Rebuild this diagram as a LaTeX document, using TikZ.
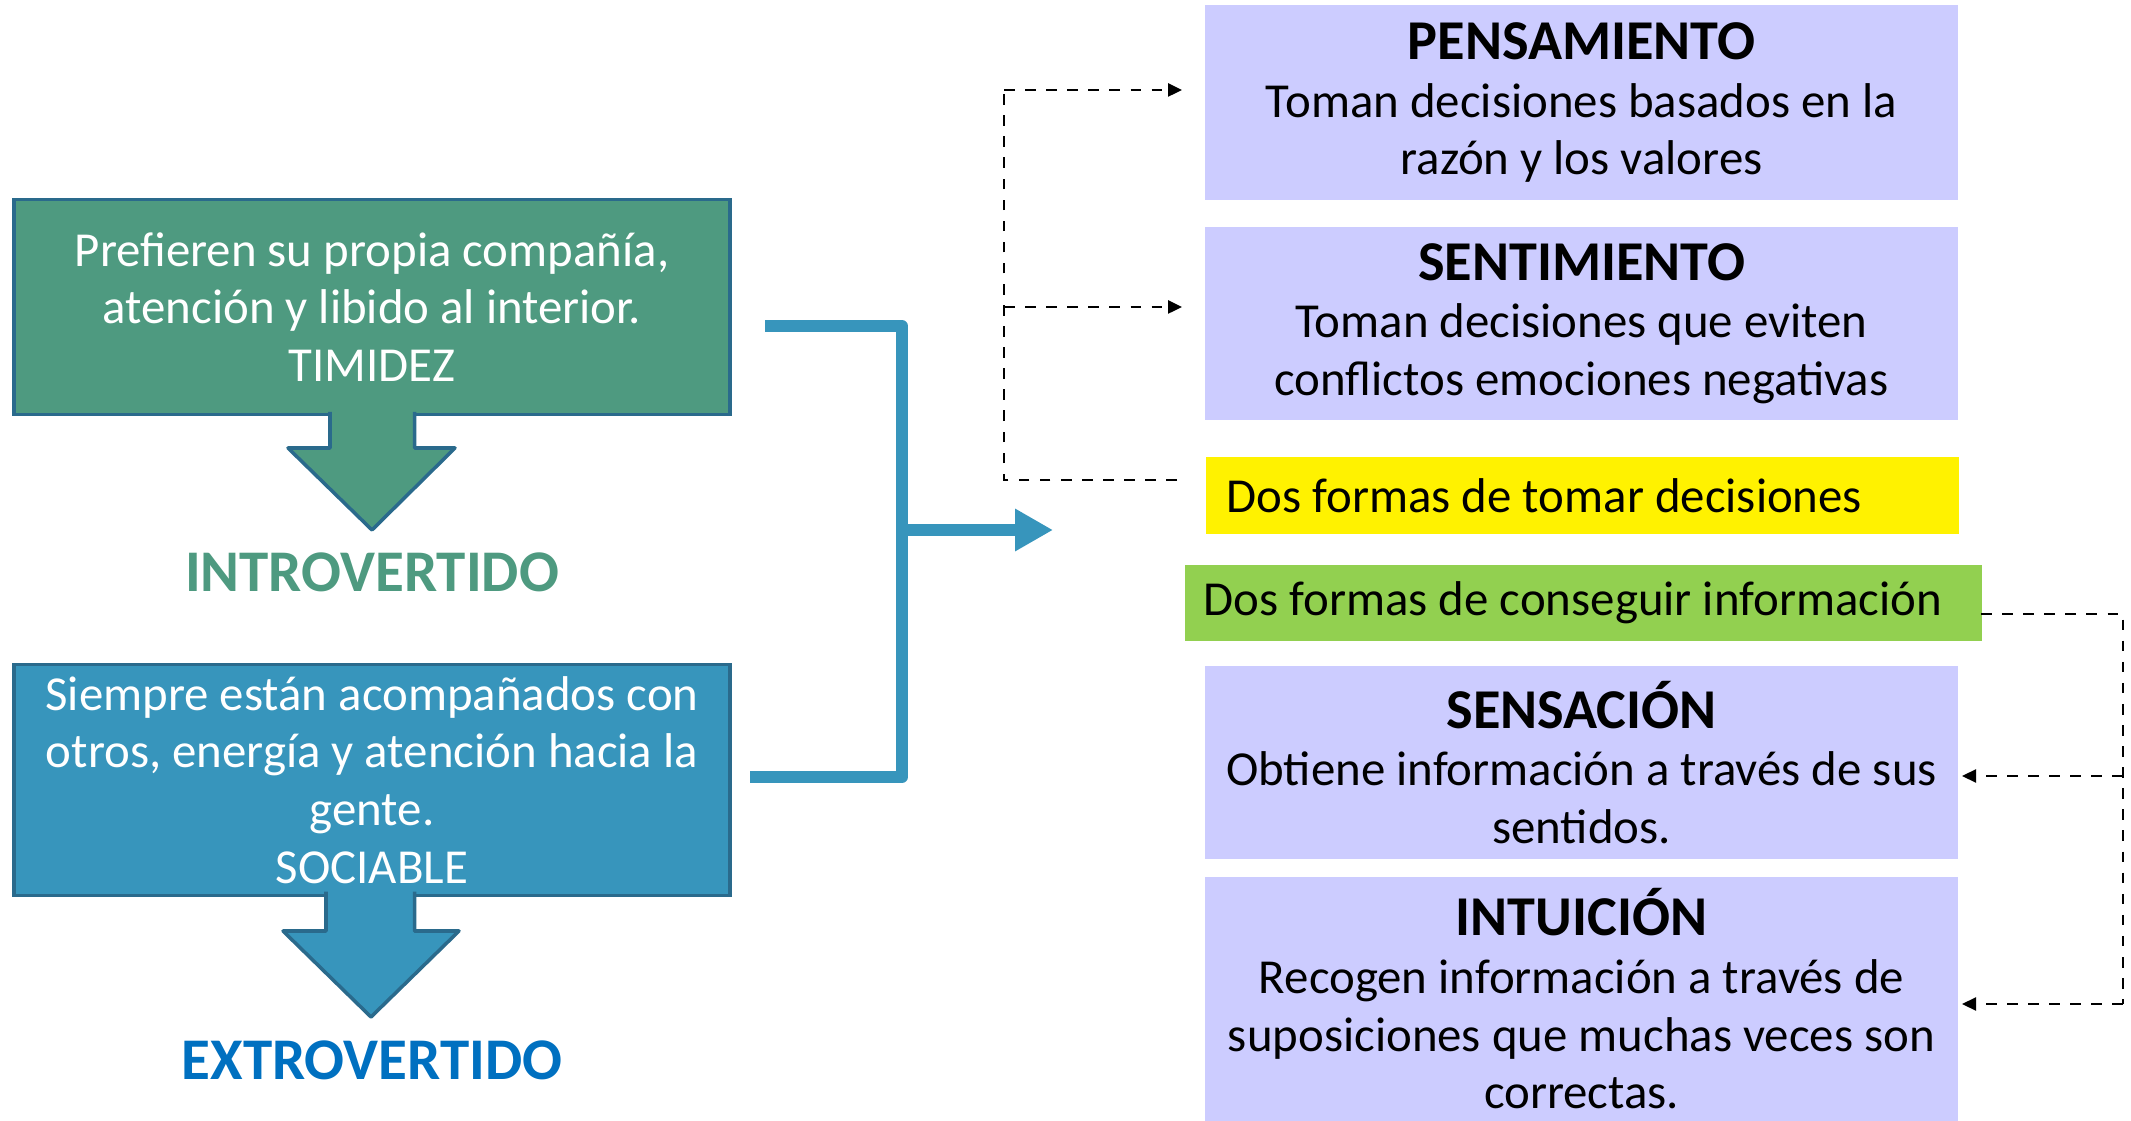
\documentclass[tikz,border=0pt]{standalone}
\usepackage{fontspec}
\setmainfont{Carlito}
\usetikzlibrary{arrows.meta,positioning}
\definecolor{introgreen}{HTML}{4E9A80}
\definecolor{extroblue}{HTML}{3795BC}
\definecolor{edgeblue}{HTML}{2A6A8C}
\definecolor{wordblue}{HTML}{0070C0}
\definecolor{lavender}{HTML}{CCCCFF}
\definecolor{leafgreen}{HTML}{92D050}
\tikzset{
	side/.style={draw=edgeblue,line width=1pt,rectangle,align=center,text=white,minimum width=7.16cm,font=\fontsize{13.9}{16.4}\selectfont},
	introbox/.style={side,fill=introgreen,minimum height=2.15cm},
	extrobox/.style={side,fill=extroblue,minimum height=2.28cm},
	downarrow/.style={draw=edgeblue,line width=1pt,line join=round},
	kind/.style={font=\fontsize{16.8}{19}\selectfont\bfseries},
	fn/.style={fill=lavender,rectangle,align=center,minimum width=7.53cm,font=\fontsize{13.9}{16.4}\selectfont},
	tag/.style={rectangle,anchor=west,align=flush left,font=\fontsize{13.9}{16.4}\selectfont},
	bracket/.style={draw=extroblue,line width=3.4pt,line join=round},
	hint/.style={draw=black,line width=0.7pt,dashed},
	-hint/.style={hint,-{Triangle[length=0.14cm,width=0.13cm]}}
}
\newcommand{\heading}[1]{{\fontsize{16}{16.4}\selectfont\bfseries #1}}
\begin{document}
\begin{tikzpicture}
	\useasboundingbox (0,0) rectangle (21.31,-11.21);
	% left side
	\node[introbox] (intro) at (3.72,-3.07) {Prefieren su propia compañía,\\atención y libido al interior.\\TIMIDEZ};
	\node[extrobox] (extro) at (3.72,-7.80) {Siempre están acompañados con\\otros, energía y atención hacia la\\gente.\\SOCIABLE};
	\fill[introgreen,downarrow] (3.30,-4.12) -- (3.30,-4.48) -- (2.88,-4.48) -- (3.72,-5.30) -- (4.55,-4.48) -- (4.145,-4.48) -- (4.145,-4.12);
	\fill[extroblue,downarrow] (3.26,-8.915) -- (3.26,-9.31) -- (2.83,-9.31) -- (3.71,-10.17) -- (4.59,-9.31) -- (4.145,-9.31) -- (4.145,-8.915);
	\node[kind,text=introgreen] (introw) at (3.72,-5.72) {INTROVERTIDO};
	\node[kind,text=wordblue] (extrow) at (3.72,-10.60) {EXTROVERTIDO};
	% right side
	\node[fn] (pens) at (15.815,-1.027) [minimum height=1.946cm] {\heading{PENSAMIENTO}\\Toman decisiones basados en la\\razón y los valores};
	\node[fn] (sent) at (15.815,-3.235) [minimum height=1.93cm] {\heading{SENTIMIENTO}\\Toman decisiones que eviten\\conflictos emociones negativas};
	\node[tag,fill=yellow,minimum height=0.77cm,text width=7.11cm,inner xsep=0.21cm] (deci) at (12.05,-4.955) {Dos formas de tomar decisiones};
	\node[tag,fill=leafgreen,minimum height=0.76cm,text width=7.59cm,inner xsep=0.19cm] (info) at (11.84,-6.03) {Dos formas de conseguir información};
	\node[fn] (sens) at (15.815,-7.625) [minimum height=1.93cm] {\heading{SENSACIÓN}\\Obtiene información a través de sus\\sentidos.};
	\node[fn] (intu) at (15.815,-9.99) [minimum height=2.44cm] {\heading{INTUICIÓN}\\Recogen información a través de\\suposiciones que muchas veces son\\correctas.};
	% joining bracket
	\coordinate (bin) at (7.65,-3.26);
	\coordinate (bex) at (7.50,-7.77);
	\coordinate (bmid) at (9.02,-5.30);
	\coordinate (bout) at (10.53,-5.30);
	\draw[bracket] (bin) -- (9.02,-3.26) -- (9.02,-7.77) -- (bex);
	\draw[bracket,-{Triangle[length=0.38cm,width=0.4cm]}] (bmid) -- (bout);
	% decisions
	\coordinate (dfoot) at (11.77,-4.80);
	\coordinate (dcol) at (10.04,-4.80);
	\coordinate (dtop) at (10.04,-0.90);
	\coordinate (dmid) at (10.04,-3.07);
	\draw[hint] (dfoot) -- (dcol) -- (dtop);
	\draw[-hint] (dtop) -- (11.82,-0.90);
	\draw[-hint] (dmid) -- (11.82,-3.07);
	% information
	\coordinate (ihead) at (19.81,-6.14);
	\coordinate (icol) at (21.23,-6.14);
	\coordinate (ibot) at (21.23,-10.04);
	\coordinate (imid) at (21.23,-7.76);
	\draw[hint] (ihead) -- (icol) -- (ibot);
	\draw[-hint] (ibot) -- (19.62,-10.04);
	\draw[-hint] (imid) -- (19.62,-7.76);
\end{tikzpicture}
\end{document}
